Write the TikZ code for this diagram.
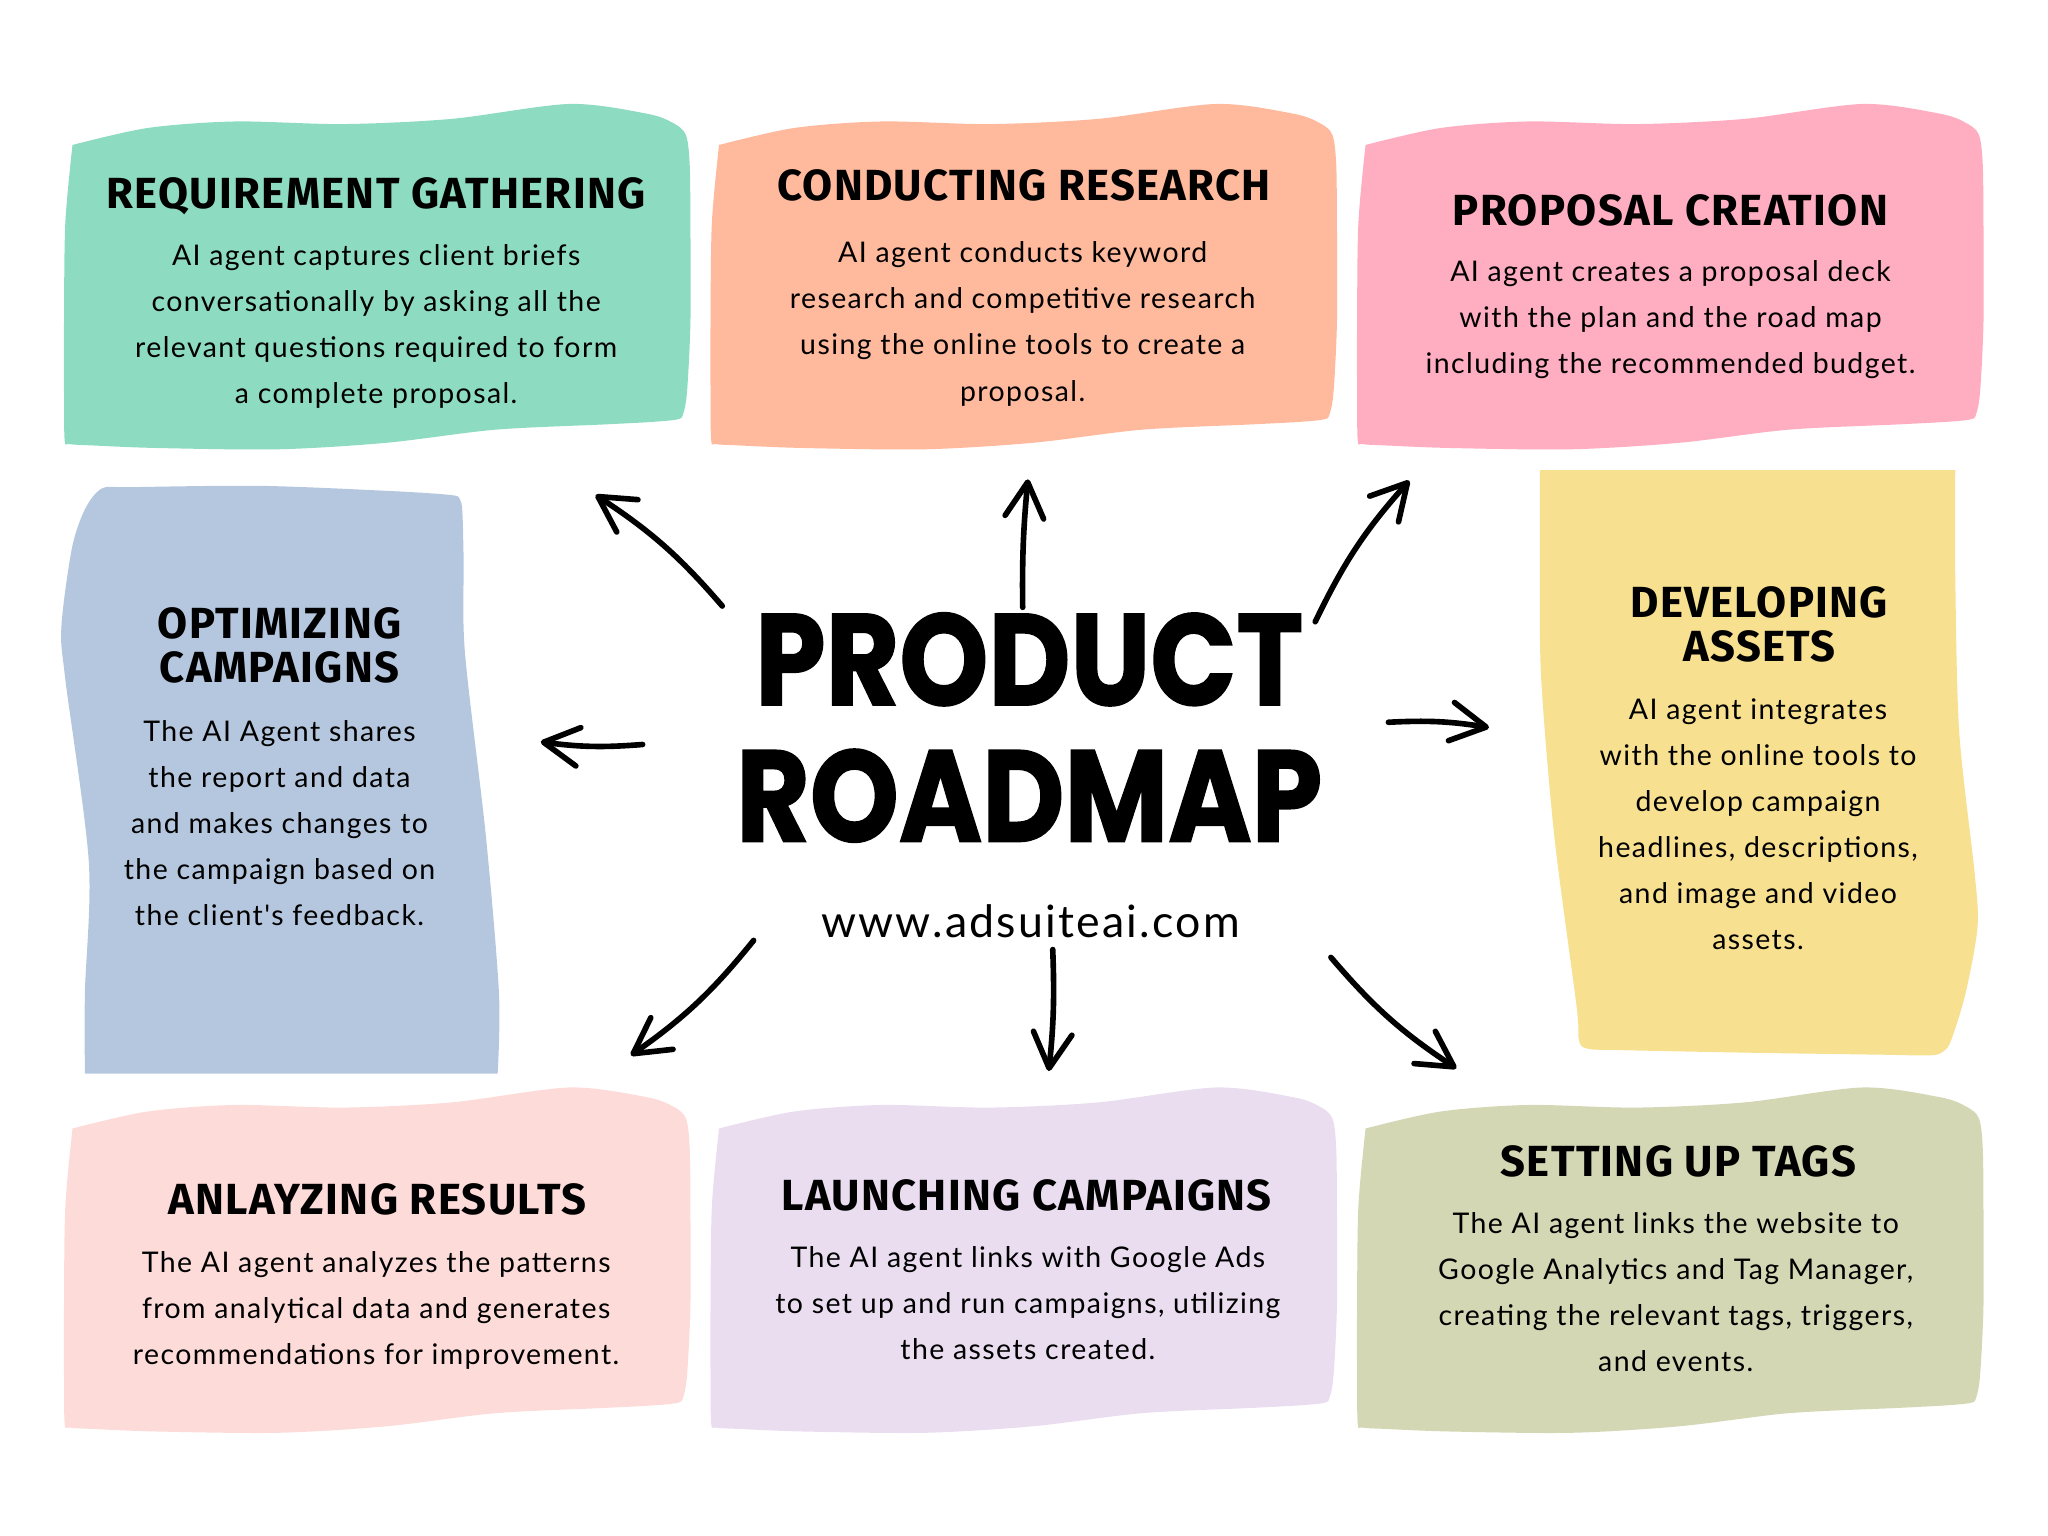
\documentclass[tikz,border=0pt]{standalone}
\usepackage{fontspec}
\usetikzlibrary{arrows.meta}
\newfontfamily\titlefont[FakeStretch=0.87,FakeBold=1.2]{Poppins Bold}
\newfontfamily\headfont[LetterSpace=3]{Fira Sans Bold}
\newfontfamily\bodyfont[LetterSpace=5]{Lato}
\definecolor{mintfill}{HTML}{8DDBC0}
\definecolor{peachfill}{HTML}{FFB99D}
\definecolor{pinkfill}{HTML}{FFADC1}
\definecolor{bluefill}{HTML}{B5C7DE}
\definecolor{yellowfill}{HTML}{F7E08F}
\definecolor{rosefill}{HTML}{FDDBD9}
\definecolor{lilacfill}{HTML}{EADDF0}
\definecolor{sagefill}{HTML}{D4D7B3}
\tikzset{
    heading/.style={align=center, inner sep=0pt, font=\headfont\fontsize{12.4}{12.6}\selectfont},
    bodytext/.style={align=center, inner sep=0pt, font=\bodyfont\fontsize{8.1}{13.1}\selectfont},
    roadarrow/.style={line width=1.6pt, line cap=round, -{Straight Barb[length=10pt,width=11pt,round]}},
}
\newcommand{\wavyshape}{plot[smooth, tension=0.5] coordinates {(55.5,111) (113,98) (180,93) (263,95) (346,91) (436,79.6) (495,87) (515,94) (525,103) (528,125) (528.6,171) (528.6,247) (526,300) (523,317) (519,321) (500,323) (462,325) (379,329) (296,339) (213,344) (120,343) (70,341) (53,340) (49.5,337) (49,300) (49,247) (50,171) (55.5,111)} -- cycle}
\begin{document}
\begin{tikzpicture}[x=0.0130612cm, y=-0.0130612cm]
    \useasboundingbox (0,0) rectangle (1568,1176);
    \fill[mintfill] \wavyshape;
    \fill[peachfill, shift={(495,0)}] \wavyshape;
    \fill[pinkfill, shift={(990,0)}] \wavyshape;
    \fill[rosefill, shift={(0,753)}] \wavyshape;
    \fill[lilacfill, shift={(495,753)}] \wavyshape;
    \fill[sagefill, shift={(990,753)}] \wavyshape;
    \fill[bluefill] plot[smooth, tension=0.5] coordinates {(65,822) (65,760) (68,660) (50,520) (47,480) (55,420) (65,390) (78,374) (100,373) (200,372) (300,376) (345,379) (352,382) (354,392) (355,430) (356,500) (372,640) (382,760) (381,822)} -- cycle;
    \fill[yellowfill] plot[smooth, tension=0.5] coordinates {(1497,360) (1497,440) (1500,560) (1512,670) (1514,710) (1505,760) (1494,796) (1488,805) (1478,808) (1440,807.5) (1340,806) (1240,804) (1216,803) (1209,797) (1207,770) (1190,640) (1180,520) (1179,440) (1179,360)} -- cycle;

    \node[heading] (reqhead) at (288,150) {REQUIREMENT GATHERING};
    \node[bodytext] (reqbody) at (288,250) {AI agent captures client briefs\\conversationally by asking all the\\relevant questions required to form\\a complete proposal.};
    \node[heading] (reshead) at (784,142) {CONDUCTING RESEARCH};
    \node[bodytext] (resbody) at (783,248) {AI agent conducts keyword\\research and competitive research\\using the online tools to create a\\proposal.};
    \node[heading] (prohead) at (1279,161) {PROPOSAL CREATION};
    \node[bodytext] (probody) at (1279,245) {AI agent creates a proposal deck\\with the plan and the road map\\including the recommended budget.};
    \node[heading] (opthead) at (214,494) {OPTIMIZING\\CAMPAIGNS};
    \node[bodytext] (optbody) at (214,630) {The AI Agent shares\\the report and data\\and makes changes to\\the campaign based on\\the client's feedback.};
    \node[heading] (devhead) at (1347,478) {DEVELOPING\\ASSETS};
    \node[bodytext] (devbody) at (1346,631) {AI agent integrates\\with the online tools to\\develop campaign\\headlines, descriptions,\\and image and video\\assets.};
    \node[heading] (anahead) at (289,918) {ANLAYZING RESULTS};
    \node[bodytext] (anabody) at (288,1003) {The AI agent analyzes the patterns\\from analytical data and generates\\recommendations for improvement.};
    \node[heading] (lauhead) at (786,915) {LAUNCHING CAMPAIGNS};
    \node[bodytext] (laubody) at (787,998) {The AI agent links with Google Ads\\to set up and run campaigns, utilizing\\the assets created.};
    \node[heading] (taghead) at (1285,889) {SETTING UP TAGS};
    \node[bodytext] (tagbody) at (1283,989) {The AI agent links the website to\\Google Analytics and Tag Manager,\\creating the relevant tags, triggers,\\and events.};

    \node[align=center, inner sep=0pt, font=\titlefont\fontsize{37}{38.8}\selectfont] (title) at (788,557) {PRODUCT\\ROADMAP};
    \node[inner sep=0pt, font=\bodyfont\fontsize{12.7}{15}\selectfont] (website) at (789,705) {www.adsuiteai.com};

    \coordinate (nwfrom) at (553,464);
    \coordinate (nwto) at (456,379);
    \coordinate (nfrom) at (783,465);
    \coordinate (nto) at (787,367);
    \coordinate (nefrom) at (1007,476);
    \coordinate (neto) at (1079,368);
    \coordinate (efrom) at (1063,553);
    \coordinate (eto) at (1140,557);
    \coordinate (wfrom) at (492,570);
    \coordinate (wto) at (414,568);
    \coordinate (swfrom) at (577,720);
    \coordinate (swto) at (483,808);
    \coordinate (sfrom) at (806,727);
    \coordinate (sto) at (803,820);
    \coordinate (sefrom) at (1019,733);
    \coordinate (seto) at (1115,818);
    \draw[roadarrow] (nwfrom) to[bend right=8] (nwto);
    \draw[roadarrow] (nfrom) to[bend left=3] (nto);
    \draw[roadarrow] (nefrom) to[bend left=8] (neto);
    \draw[roadarrow] (efrom) to[bend left=6] (eto);
    \draw[roadarrow] (wfrom) to[bend left=6] (wto);
    \draw[roadarrow] (swfrom) to[bend left=8] (swto);
    \draw[roadarrow] (sfrom) to[bend left=4] (sto);
    \draw[roadarrow] (sefrom) to[bend right=8] (seto);
\end{tikzpicture}
\end{document}
